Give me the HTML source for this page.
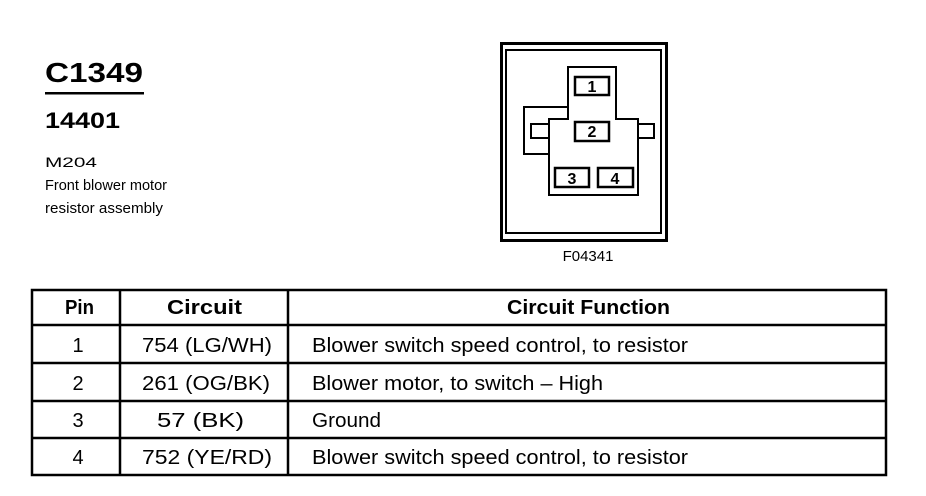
<!DOCTYPE html>
<html><head><meta charset="utf-8"><style>
html,body{margin:0;padding:0;background:#fff;}
svg{display:block;font-family:"Liberation Sans",Arial,sans-serif;}
</style></head><body>
<svg width="926" height="496" viewBox="0 0 926 496" xmlns="http://www.w3.org/2000/svg">
<rect width="926" height="496" fill="#fff"/>
<g lengthAdjust="spacingAndGlyphs">
<text x="45" y="82" font-size="28" font-weight="bold" textLength="98" lengthAdjust="spacingAndGlyphs">C1349</text>
<rect x="45" y="92" width="99" height="2.5" fill="#000"/>
<text x="45" y="128" font-size="22" font-weight="bold" textLength="75" lengthAdjust="spacingAndGlyphs">14401</text>
<text x="45" y="167" font-size="14" textLength="52" lengthAdjust="spacingAndGlyphs">M204</text>
<text x="45" y="190" font-size="14.5" textLength="122" lengthAdjust="spacingAndGlyphs">Front blower motor</text>
<text x="45" y="213" font-size="14.5" textLength="118" lengthAdjust="spacingAndGlyphs">resistor assembly</text>
</g>
<!-- connector -->
<g fill="none" stroke="#000">
<rect x="501.5" y="43.5" width="165" height="197" stroke-width="3"/>
<rect x="506" y="50" width="155" height="183" stroke-width="2"/>
<path d="M568 119 V67 H616 V119 H638 V195 H549 V119 Z" stroke-width="2"/>
<path d="M568 107 H524 V154 H549" stroke-width="2"/>
<rect x="531" y="124" width="18" height="14" stroke-width="2"/>
<rect x="638" y="124" width="16" height="14" stroke-width="2"/>
<rect x="575" y="77" width="34" height="18" stroke-width="2.5"/>
<rect x="575" y="122" width="34" height="19" stroke-width="2.5"/>
<rect x="555" y="168" width="34" height="19" stroke-width="2.5"/>
<rect x="598" y="168" width="35" height="19" stroke-width="2.5"/>
</g>
<g font-size="16" font-weight="bold" text-anchor="middle">
<text x="592" y="92">1</text>
<text x="592" y="137">2</text>
<text x="572" y="184">3</text>
<text x="615" y="184">4</text>
</g>
<text x="588" y="261" font-size="15" text-anchor="middle">F04341</text>
<!-- table -->
<g stroke="#000" stroke-width="2.5" fill="none">
<rect x="32" y="290" width="854" height="185"/>
<line x1="32" y1="325" x2="886" y2="325"/>
<line x1="32" y1="363" x2="886" y2="363"/>
<line x1="32" y1="401" x2="886" y2="401"/>
<line x1="32" y1="438" x2="886" y2="438"/>
<line x1="120" y1="290" x2="120" y2="475"/>
<line x1="288" y1="290" x2="288" y2="475"/>
</g>
<g font-size="20" font-weight="bold">
<text x="65" y="314" textLength="29" lengthAdjust="spacingAndGlyphs">Pin</text>
<text x="167" y="314" textLength="75" lengthAdjust="spacingAndGlyphs">Circuit</text>
<text x="507" y="314" textLength="163" lengthAdjust="spacingAndGlyphs">Circuit Function</text>
</g>
<g font-size="20">
<text x="78" y="352" text-anchor="middle">1</text>
<text x="142" y="352" textLength="130" lengthAdjust="spacingAndGlyphs">754 (LG/WH)</text>
<text x="78" y="390" text-anchor="middle">2</text>
<text x="142" y="390" textLength="128" lengthAdjust="spacingAndGlyphs">261 (OG/BK)</text>
<text x="78" y="427" text-anchor="middle">3</text>
<text x="157" y="427" textLength="87" lengthAdjust="spacingAndGlyphs">57 (BK)</text>
<text x="78" y="464" text-anchor="middle">4</text>
<text x="142" y="464" textLength="130" lengthAdjust="spacingAndGlyphs">752 (YE/RD)</text>
<text x="312" y="352" textLength="376" lengthAdjust="spacingAndGlyphs">Blower switch speed control, to resistor</text>
<text x="312" y="390" textLength="291" lengthAdjust="spacingAndGlyphs">Blower motor, to switch – High</text>
<text x="312" y="427" textLength="69" lengthAdjust="spacingAndGlyphs">Ground</text>
<text x="312" y="464" textLength="376" lengthAdjust="spacingAndGlyphs">Blower switch speed control, to resistor</text>
</g>
</svg>
</body></html>
